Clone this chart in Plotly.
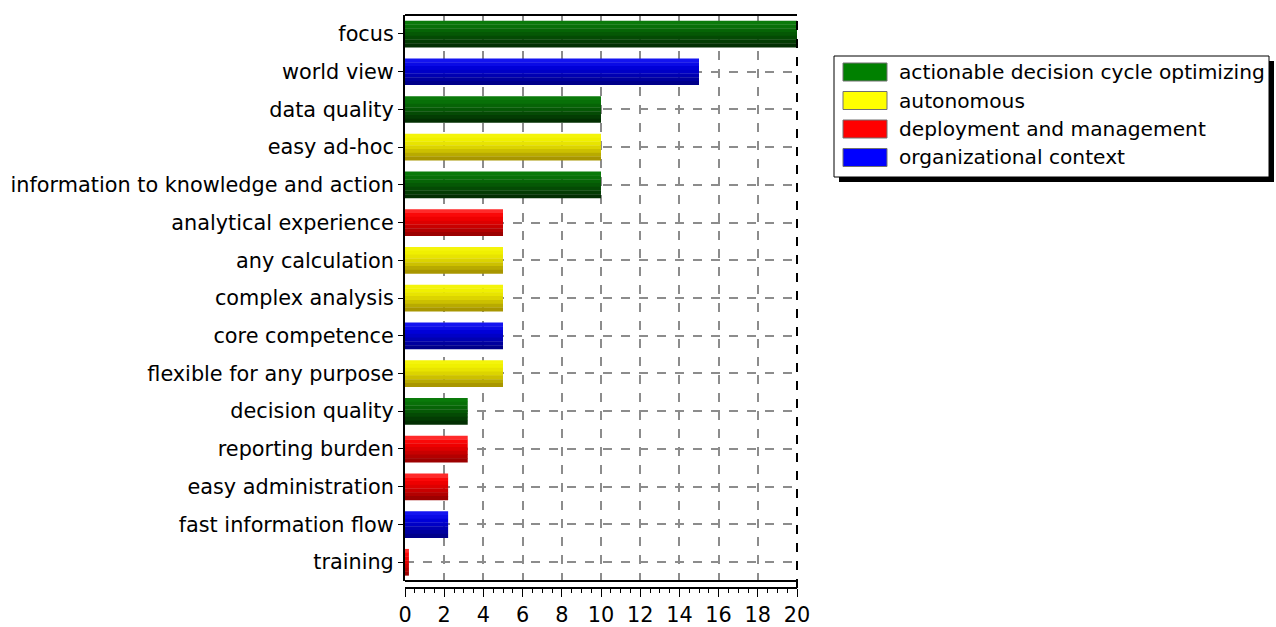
import plotly.graph_objects as go

# Criteria (top to bottom), their scores and the group each belongs to
categories = [
    "focus", "world view", "data quality", "easy ad-hoc",
    "information to knowledge and action", "analytical experience",
    "any calculation", "complex analysis", "core competence",
    "flexible for any purpose", "decision quality", "reporting burden",
    "easy administration", "fast information flow", "training",
]
values = [20, 15, 10, 10, 10, 5, 5, 5, 5, 5, 3.2, 3.2, 2.2, 2.2, 0.2]
groups = [
    "actionable decision cycle optimizing", "organizational context",
    "actionable decision cycle optimizing", "autonomous",
    "actionable decision cycle optimizing", "deployment and management",
    "autonomous", "autonomous", "organizational context", "autonomous",
    "actionable decision cycle optimizing", "deployment and management",
    "deployment and management", "organizational context",
    "deployment and management",
]
group_names = [
    "actionable decision cycle optimizing", "autonomous",
    "deployment and management", "organizational context",
]
x_ticks = list(range(0, 21, 2))

# Flat legend colour and a light-to-dark ramp used to shade each cylinder
legend_colors = {
    "actionable decision cycle optimizing": "#008000",
    "autonomous": "#ffff00",
    "deployment and management": "#ff0000",
    "organizational context": "#0000ff",
}
shade_ramps = {
    "actionable decision cycle optimizing":
        ["#0a7a0a", "#087008", "#066406", "#055805", "#044a04", "#033c03", "#022f02"],
    "autonomous":
        ["#f4f40a", "#f0f000", "#e8e400", "#dcd400", "#ccc000", "#b8aa00", "#a89600"],
    "deployment and management":
        ["#ff2a2a", "#fa0808", "#ee0000", "#dd0000", "#c80000", "#b20000", "#9c0000"],
    "organizational context":
        ["#1414f0", "#0a0ae6", "#0000d8", "#0000c6", "#0000b2", "#00009e", "#00008a"],
}

W, H = 1276, 627
L, R, T, B = 405, 479, 15, 39
plot_w = W - L - R
plot_h = H - T - B
gap = 7  # pixels between the back plane floor and the front value axis


def px_x(p):
    return (p - L) / plot_w


def px_y(p):
    return (H - B - p) / plot_h


fig = go.Figure()

bar_width = 0.70
n_strips = 7
strip = bar_width / n_strips
for g in group_names:
    ys = [c for c, gg in zip(categories, groups) if gg == g]
    xs = [v for v, gg in zip(values, groups) if gg == g]
    for k, col in enumerate(shade_ramps[g]):
        fig.add_trace(go.Bar(
            y=ys, x=xs, orientation="h",
            width=strip * 1.08, offset=-bar_width / 2 + k * strip,
            marker=dict(color=col, line=dict(width=0)),
            showlegend=False, hoverinfo="x+y", name=g,
        ))

font_family = "DejaVu Sans, Verdana, sans-serif"
tick_size = 20.8
legend_size = 20.2

fig.update_layout(
    width=W, height=H,
    margin=dict(l=L, r=R, t=T, b=B, autoexpand=False),
    paper_bgcolor="white", plot_bgcolor="white",
    barmode="overlay",
    showlegend=False,
    font=dict(family=font_family, size=tick_size, color="black"),
    xaxis=dict(
        range=[0, 20], tickvals=x_ticks, ticktext=[str(t) for t in x_ticks],
        anchor="free", position=0, automargin=False,
        showgrid=True, gridcolor="#8c8c8c", griddash="dash", gridwidth=1.5,
        showline=True, linecolor="black", linewidth=2,
        ticks="outside", ticklen=8, tickcolor="black",
        minor=dict(dtick=0.5, ticks="outside", ticklen=4, tickcolor="black", showgrid=False),
        zeroline=False, tickfont=dict(size=tick_size),
    ),
    yaxis=dict(
        domain=[gap / plot_h, 1], automargin=False,
        categoryorder="array", categoryarray=categories,
        autorange="reversed",
        showgrid=True, gridcolor="#8c8c8c", griddash="dash", gridwidth=1.5,
        showline=True, linecolor="black", linewidth=2,
        ticks="outside", ticklen=5, tickcolor="black",
        zeroline=False, tickfont=dict(size=tick_size),
    ),
)

# Back-plane frame: solid top edge, dashed right edge, inner bottom edge
fig.add_shape(type="line", xref="paper", yref="paper", x0=0, x1=1, y0=1, y1=1,
              line=dict(color="black", width=2))
fig.add_shape(type="line", xref="paper", yref="paper", x0=1, x1=1, y0=0, y1=1,
              line=dict(color="black", width=2, dash="dash"))
fig.add_shape(type="line", xref="paper", yref="paper", x0=0, x1=1,
              y0=gap / plot_h, y1=gap / plot_h, line=dict(color="black", width=2))

# Legend box with drop shadow
bx0, bx1, by0, by1 = 834, 1269, 56, 177
fig.add_shape(type="rect", xref="paper", yref="paper",
              x0=px_x(bx0 + 5), x1=px_x(bx1 + 5), y0=px_y(by1 + 5), y1=px_y(by0 + 5),
              fillcolor="black", line=dict(width=0), layer="above")
fig.add_shape(type="rect", xref="paper", yref="paper",
              x0=px_x(bx0), x1=px_x(bx1), y0=px_y(by1), y1=px_y(by0),
              fillcolor="white", line=dict(color="black", width=1), layer="above")
row_y = [72, 100.5, 129, 157.5]
for g, cy in zip(group_names, row_y):
    fig.add_shape(type="rect", xref="paper", yref="paper",
                  x0=px_x(843), x1=px_x(887), y0=px_y(cy + 9), y1=px_y(cy - 9),
                  fillcolor=legend_colors[g], line=dict(color="#707070", width=1),
                  layer="above")
    fig.add_annotation(xref="paper", yref="paper", x=px_x(897), y=px_y(cy),
                       text=g, showarrow=False, xanchor="left", yanchor="middle",
                       font=dict(family=font_family, size=legend_size, color="black"))

fig.write_html("out.html")
